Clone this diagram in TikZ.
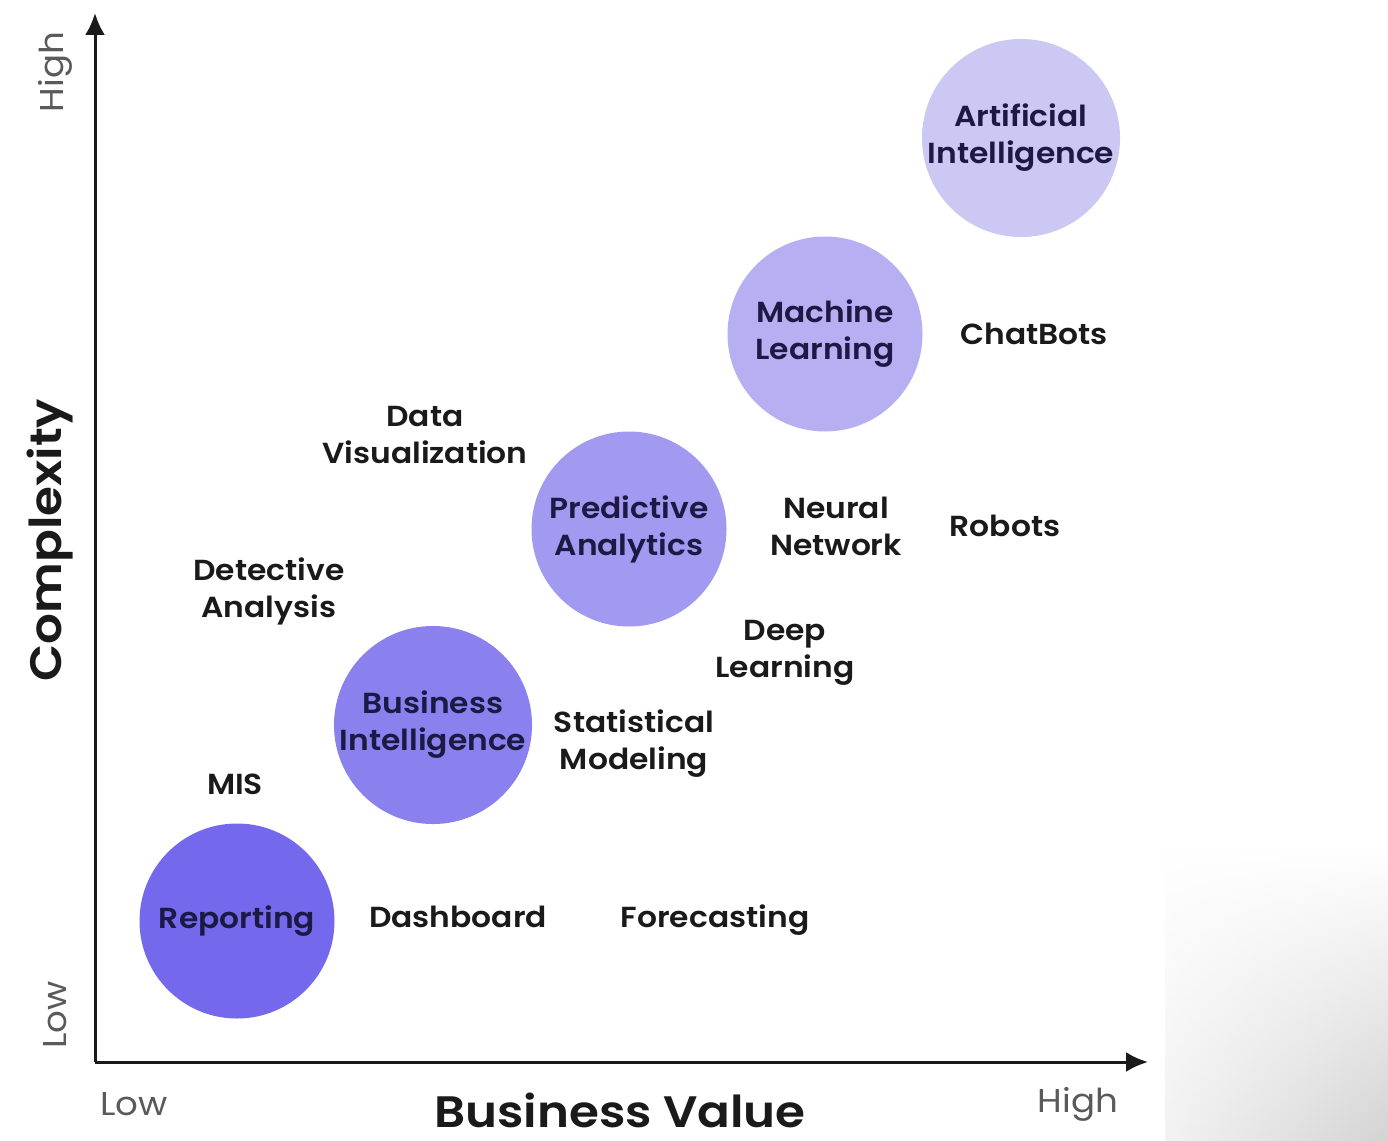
\documentclass[tikz,border=0pt]{standalone}
\usepackage{fontspec}
\setmainfont{Poppins}[UprightFont=* SemiBold, BoldFont=* SemiBold, FakeStretch=1.08]
\newfontfamily\tickfont{Poppins}[FakeStretch=1.08]
\newfontfamily\titlefont{Poppins SemiBold}[FakeStretch=1.1]
\usetikzlibrary{arrows.meta,fadings}
\definecolor{cA}{HTML}{7468EC}
\definecolor{cB}{HTML}{8A80EE}
\definecolor{cC}{HTML}{A299F0}
\definecolor{cD}{HTML}{B6AFF2}
\definecolor{cE}{HTML}{CCC8F4}
\definecolor{navy}{HTML}{1C1A45}
\definecolor{ink}{HTML}{1A1A1A}
\definecolor{axgray}{HTML}{5A5A5A}
\begin{document}
\begin{tikzpicture}[x=1pt,y=-1pt,
  bub/.style={circle,minimum size=195pt,inner sep=0pt,text=navy,align=center,
    font=\fontsize{29}{37}\selectfont},
  lbl/.style={text=ink,align=center,font=\fontsize{29}{37}\selectfont},
  tick/.style={text=axgray,font=\tickfont\fontsize{33}{36}\selectfont},
  title/.style={text=ink,font=\titlefont\fontsize{44}{48}\selectfont},
  axis/.style={line width=3pt,draw=ink,-{Latex[length=22pt,width=20pt]}}]
\useasboundingbox (0,0) rectangle (1388,1140);
\fill[white] (0,0) rectangle (1388,1140);
\shade[left color=black!5,right color=black!17,path fading=north] (1165,850) rectangle (1388,1140);
% axes
\coordinate (O) at (95,1062);
\coordinate (Ytop) at (95,13);
\coordinate (Xend) at (1148,1062);
\draw[axis] (O) -- (Ytop);
\draw[axis] (O) -- (Xend);
% bubbles
\node[bub,fill=cA] (rep) at (237,921) {Reporting};
\node[bub,fill=cB] (bi) at (433,725) {Business\\Intelligence};
\node[bub,fill=cC] (pa) at (629,529) {Predictive\\Analytics};
\node[bub,fill=cD] (ml) at (825,334) {Machine\\Learning};
\node[bub,fill=cE] (ai) at (1021,138) {Artificial\\Intelligence};
% labels
\node[lbl] (cb) at (1034,334) {ChatBots};
\node[lbl] (dv) at (425,435) {Data\\Visualization};
\node[lbl] (nn) at (836,526) {Neural\\Network};
\node[lbl] (rb) at (1005,526) {Robots};
\node[lbl] (da) at (269,591) {Detective\\Analysis};
\node[lbl] (dl) at (785,653) {Deep\\Learning};
\node[lbl] (sm) at (634,744) {Statistical\\Modeling};
\node[lbl] (mis) at (235,784) {MIS};
\node[lbl,anchor=base] (db) at (458,927) {Dashboard};
\node[lbl,anchor=base] (fc) at (715,927) {Forecasting};
% axis texts
\node[title,rotate=90] (cx) at (50,540) {Complexity};
\node[title] (bv) at (620,1110) {Business Value};
\node[tick,rotate=90] (yh) at (55,72) {High};
\node[tick,rotate=90] (yl) at (55,1015) {Low};
\node[tick] (xl) at (134,1104) {Low};
\node[tick] (xh) at (1078,1104) {High};
\end{tikzpicture}
\end{document}
